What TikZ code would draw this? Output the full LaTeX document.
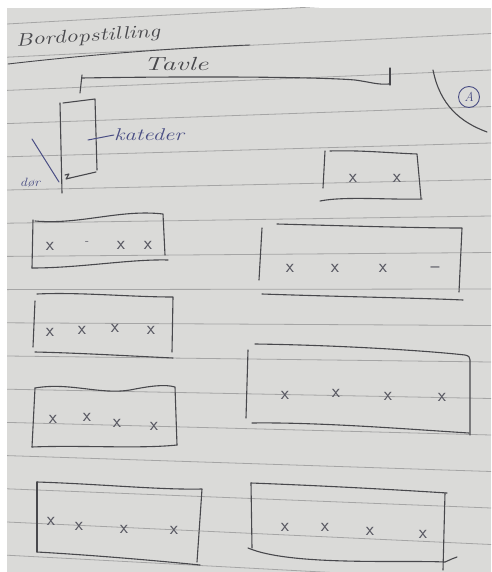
\documentclass[tikz,border=0pt]{standalone}
\definecolor{paper}{RGB}{218,218,216}
\definecolor{ruling}{RGB}{165,165,165}
\definecolor{pencil}{RGB}{72,72,76}
\definecolor{ink}{RGB}{74,78,132}
\definecolor{markgrey}{RGB}{88,88,98}
\begin{document}
\begin{tikzpicture}[x=1pt,y=-1pt,line cap=round,line join=round,
  pen/.style={draw=pencil,line width=1.1pt},
  inkpen/.style={draw=ink,line width=1pt},
  ruled/.style={draw=ruling,line width=0.8pt},
  xm/.style={inner sep=0pt,text=markgrey,font=\sffamily\fontsize{19}{19}\selectfont},
  hand/.style={inner sep=0pt,text=pencil,font=\itshape},
  inkhand/.style={inner sep=0pt,text=ink,font=\itshape}]
\useasboundingbox (0,0) rectangle (491,572);
% sheet of lined paper
\fill[white] (0,0) rectangle (491,572);
\fill[paper] (7,8) rectangle (491,572);
\begin{scope}
  \clip (7,8) rectangle (491,572);
  \foreach \j in {0,...,16}
    \draw[ruled] (7,{24+33.2*\j}) -- (491,{-3+36.5*\j});
\end{scope}

% heading
\node[hand,font=\itshape\fontsize{18}{18}\selectfont,xscale=1.35,rotate=5] (title) at (88,37) {Bordopstilling};
\draw[pen,line width=0.9pt] (8,64) .. controls (60,58) and (150,49) .. (250,45);

% blackboard
\node[hand,font=\itshape\fontsize{19}{19}\selectfont,xscale=1.5] (tavle) at (176,64) {Tavle};
\coordinate (bl) at (82,78);
\coordinate (br) at (389,84);
\draw[pen] (bl) .. controls (200,76) and (320,77) .. (355,80) .. controls (370,82) and (378,85) .. (br);
\draw[pen] (82,75) -- (80,93);
\draw[pen] (390,68) -- (390,85);

% teacher's desk and door
\draw[pen] (60,103) -- (62,193);
\draw[pen] (63,103) -- (95,99) -- (97,170);
\draw[pen] (65,175) -- (69,174) -- (66,179) -- (70,178);
\draw[pen] (70,178) -- (96,172);
\node[inkhand,font=\itshape\fontsize{17}{17}\selectfont,xscale=1.35] (kateder) at (149,135) {kateder};
\draw[inkpen] (88,140) -- (kateder.west);
\draw[inkpen] (32,139) -- (59,182);
\node[inkhand,font=\itshape\fontsize{12}{12}\selectfont,xscale=1.2] (dor) at (30,183) {dør};

% corner marking
\node[draw=ink,line width=0.9pt,circle,minimum size=21pt,inner sep=0pt,text=ink,font=\itshape\fontsize{13}{13}\selectfont] (A) at (469,97) {A};
\draw[pen] (433,70) .. controls (440,105) and (460,122) .. (487,132);

% right column, table 1
\draw[pen] (325,151) -- (323,188);
\draw[pen] (330,151) .. controls (360,150) and (390,153) .. (417,154) -- (421,198);
\draw[pen] (320,201) .. controls (345,196) and (390,200) .. (422,199);
\node[xm] (r1a) at (353,178) {x};
\node[xm] (r1b) at (397,178) {x};

% right column, table 2
\draw[pen] (262,228) -- (259,280);
\draw[pen] (277,224) .. controls (350,226) and (420,228) .. (462,228) -- (459,292);
\draw[pen] (262,294) .. controls (350,297) and (420,298) .. (463,300);
\node[xm] (r2a) at (290,268) {x};
\node[xm] (r2b) at (335,268) {x};
\node[xm] (r2c) at (383,268) {x};
\node[xm] (r2d) at (435,270) {–};

% right column, table 3
\draw[pen] (248,350) -- (246,418);
\draw[pen] (255,344) .. controls (330,345) and (420,350) .. (465,355) .. controls (469,356) and (470,357) .. (470,360) -- (470,435);
\draw[pen] (252,423) .. controls (320,422) and (420,430) .. (469,433);
\node[xm] (r3a) at (285,395) {x};
\node[xm] (r3b) at (336,393) {x};
\node[xm] (r3c) at (388,396) {x};
\node[xm] (r3d) at (442,397) {x};

% right column, table 4
\draw[pen] (251,483) .. controls (330,486) and (400,490) .. (447,493);
\draw[pen] (251,483) -- (252,548);
\draw[pen] (445,493) -- (443,570);
\draw[pen] (248,548) .. controls (290,566) and (400,560) .. (445,562) .. controls (450,560) and (453,558) .. (457,557);
\node[xm] (r4a) at (285,527) {x};
\node[xm] (r4b) at (325,527) {x};
\node[xm] (r4c) at (370,531) {x};
\node[xm] (r4d) at (423,534) {x};

% left column, table 1
\draw[pen] (33,220) -- (32,268);
\draw[pen] (35,221) .. controls (80,225) and (120,209) .. (163,214) -- (165,255);
\draw[pen] (32,268) .. controls (80,268) and (130,259) .. (168,260);
\node[xm] (l1a) at (50,246) {x};
\node[xm,font=\sffamily\fontsize{12}{12}\selectfont] (l1b) at (87,243) {-};
\node[xm] (l1c) at (121,245) {x};
\node[xm] (l1d) at (148,245) {x};

% left column, table 2
\draw[pen] (37,294) .. controls (80,292) and (130,297) .. (173,297) -- (172,352);
\draw[pen] (35,301) -- (33,347);
\draw[pen] (35,352) .. controls (80,353) and (130,356) .. (173,358);
\node[xm] (l2a) at (50,332) {x};
\node[xm] (l2b) at (82,330) {x};
\node[xm] (l2c) at (115,328) {x};
\node[xm] (l2d) at (151,330) {x};

% left column, table 3
\draw[pen] (35,388) .. controls (70,382) and (100,395) .. (130,390) .. controls (150,386) and (165,384) .. (175,387) -- (177,445);
\draw[pen] (35,388) -- (32,447);
\draw[pen] (32,447) .. controls (80,445) and (140,449) .. (177,445);
\node[xm] (l3a) at (53,419) {x};
\node[xm] (l3b) at (87,417) {x};
\node[xm] (l3c) at (117,423) {x};
\node[xm] (l3d) at (154,426) {x};

% left column, table 4
\draw[pen] (37,482) .. controls (100,484) and (160,490) .. (202,489) -- (197,562);
\draw[pen] (37,482) -- (37,552);
\draw[pen] (37,552) .. controls (90,555) and (150,560) .. (200,565);
\node[xm] (l4a) at (51,521) {x};
\node[xm] (l4b) at (79,526) {x};
\node[xm] (l4c) at (124,529) {x};
\node[xm] (l4d) at (174,530) {x};
\end{tikzpicture}
\end{document}
